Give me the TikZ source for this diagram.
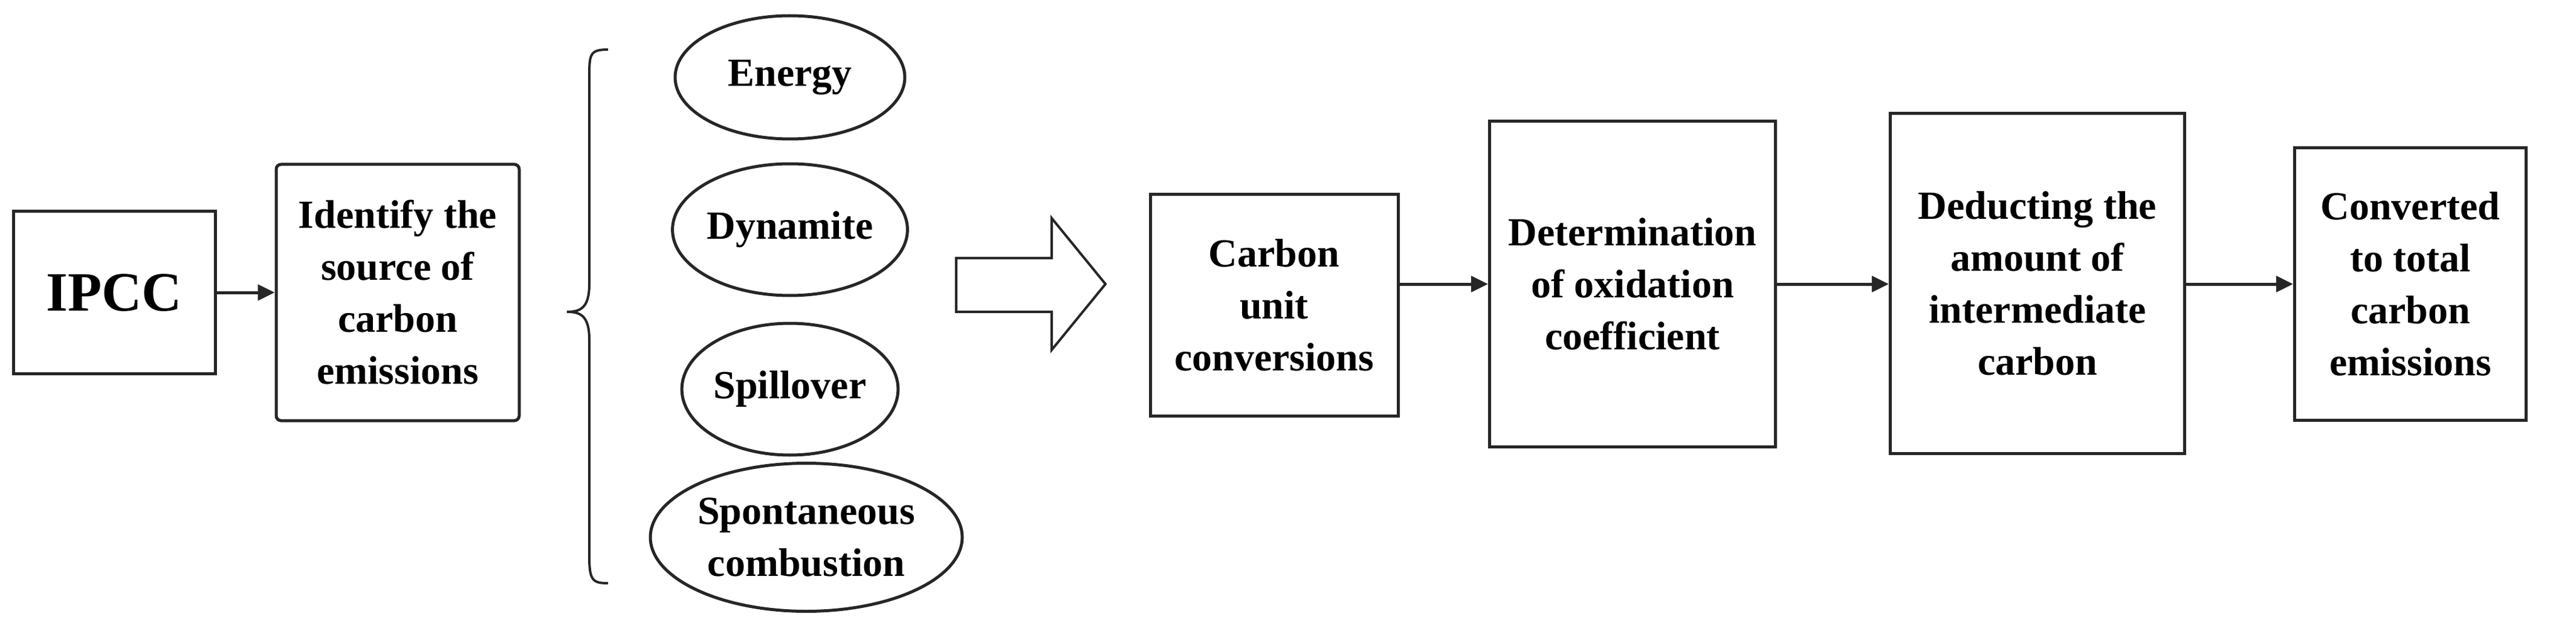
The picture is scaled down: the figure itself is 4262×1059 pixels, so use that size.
\documentclass[tikz,border=0pt]{standalone}
\usepackage{fontspec}
\setmainfont{Liberation Serif}
\usetikzlibrary{shapes.geometric,arrows.meta}
\begin{document}
\begin{tikzpicture}[x=1pt,y=-1pt,
  lw/.style={line width=5pt,draw=black!85},
  box/.style={lw,rectangle,align=center,font=\fontsize{66}{86}\selectfont\bfseries,inner sep=0pt},
  ell/.style={lw,ellipse,align=center,font=\fontsize{66}{86}\selectfont\bfseries,inner sep=0pt},
  arr/.style={line width=5pt,draw=black!85,-{Triangle[length=28pt,width=26pt]}}]
\useasboundingbox (0,0) rectangle (4262,1059);
\node[box,minimum width=334pt,minimum height=269pt,font=\fontsize{92}{100}\selectfont\bfseries] (ipcc) at (189,484) {IPCC};
\node[box,rounded corners=8pt,minimum width=402pt,minimum height=424pt] (src) at (658,484) {Identify the\\source of\\carbon\\emissions};
\draw[arr] (ipcc.east) -- (src.west);
\draw[line width=4pt,draw=black!85] (1006,82) .. controls (975,82) and (975,90) .. (975,130) -- (975,470) .. controls (975,510) and (960,516) .. (938,516) .. controls (960,516) and (975,522) .. (975,562) -- (975,920) .. controls (975,960) and (980,965) .. (1006,965);
\node[ell,minimum width=380pt,minimum height=204pt] (e1) at (1307,128) {Energy};
\node[ell,minimum width=353pt,minimum height=218pt] (e2) at (1307,380) {Dynamite};
\node[ell,minimum width=353pt,minimum height=218pt] (e3) at (1307,644) {Spillover};
\node[ell,minimum width=516pt,minimum height=245pt] (e4) at (1334,889) {Spontaneous\\combustion};
\draw[line width=4pt,draw=black!85] (1582,427) -- (1740,427) -- (1740,361) -- (1829,470) -- (1740,579) -- (1740,516) -- (1582,516) -- cycle;
\node[box,minimum width=410pt,minimum height=367pt] (cu) at (2108,505) {Carbon\\unit\\conversions};
\node[box,minimum width=473pt,minimum height=538pt] (det) at (2701,470) {Determination\\of oxidation\\coefficient};
\node[box,minimum width=487pt,minimum height=562pt] (ded) at (3371,469) {Deducting the\\amount of\\intermediate\\carbon};
\node[box,minimum width=383pt,minimum height=451pt] (conv) at (3988,470) {Converted\\to total\\carbon\\emissions};
\draw[arr] (cu.east |- 0,470) -- (det.west |- 0,470);
\draw[arr] (det.east |- 0,470) -- (ded.west |- 0,470);
\draw[arr] (ded.east |- 0,470) -- (conv.west |- 0,470);
\end{tikzpicture}
\end{document}
